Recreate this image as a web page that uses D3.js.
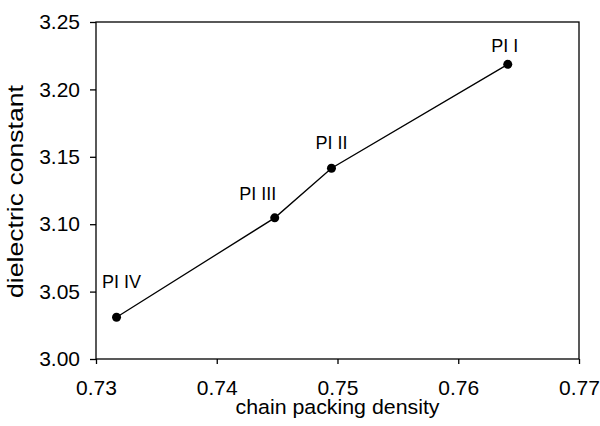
<!DOCTYPE html>
<html>
<head>
<meta charset="utf-8">
<script src="https://cdn.jsdelivr.net/npm/d3@7"></script>
<style>
  body { margin: 0; background: #fff; }
  text { font-family: "Liberation Sans", Arial, sans-serif; fill: #000; }
</style>
</head>
<body>
<svg class="chart"></svg>
<script>
// data
var names = ["PI I", "PI II", "PI III", "PI IV"];
var density = [0.7641, 0.7495, 0.7448, 0.7317];
var dielectric = [3.2186, 3.1415, 3.1047, 3.031];
var xTicks = [0.73, 0.74, 0.75, 0.76, 0.77];
var yTicks = [3.00, 3.05, 3.10, 3.15, 3.20, 3.25];

// label placement relative to each point (px)
var labelDx = [-3, 0, -17, 5];
var labelDy = [-12, -19, -18, -29];

function show() {
    'use strict';

    var margin = { top: 22, bottom: 67, right: 21, left: 96 },
        width = 600 - margin.left - margin.right,
        height = 426 - margin.top - margin.bottom;

    var svg = d3.select(".chart")
        .attr("width", 600)
        .attr("height", 426);

    var chart = svg.append("g")
        .attr("transform", "translate(" + margin.left + "," + margin.top + ")");

    var x = d3.scaleLinear().domain([0.73, 0.77]).range([0, width]);
    var y = d3.scaleLinear().domain([3.00, 3.25]).range([height, 0]);

    // frame
    chart.append("rect")
        .attr("width", width).attr("height", height)
        .attr("fill", "none").attr("stroke", "#000").attr("stroke-width", 1.3);

    var xAxis = chart.append("g")
        .attr("transform", "translate(0," + height + ")")
        .call(d3.axisBottom(x).tickValues(xTicks).tickFormat(d3.format(".2f")).tickSize(5).tickPadding(16));
    var yAxis = chart.append("g")
        .call(d3.axisLeft(y).tickValues(yTicks).tickFormat(d3.format(".2f")).tickSize(6).tickPadding(10));

    [xAxis, yAxis].forEach(function (a) {
        a.attr("font-size", 21).attr("font-family", '"Liberation Sans", Arial, sans-serif');
        a.select(".domain").remove();
        a.selectAll("line").attr("stroke", "#000").attr("stroke-width", 1.3);
        a.selectAll("text").attr("fill", "#000");
    });

    // axis titles
    chart.append("text")
        .attr("x", width / 2).attr("y", height + 55)
        .attr("text-anchor", "middle")
        .attr("font-size", 20.5)
        .attr("textLength", 204).attr("lengthAdjust", "spacingAndGlyphs")
        .text("chain packing density");

    chart.append("text")
        .attr("transform", "translate(" + (-73) + "," + (height / 2 + 1) + ") rotate(-90)")
        .attr("text-anchor", "middle")
        .attr("font-size", 22)
        .attr("textLength", 213).attr("lengthAdjust", "spacingAndGlyphs")
        .text("dielectric constant");

    var pts = names.map(function (n, i) { return { name: n, x: density[i], y: dielectric[i], i: i }; });
    var sorted = pts.slice().sort(function (a, b) { return a.x - b.x; });

    chart.append("path")
        .datum(sorted)
        .attr("fill", "none").attr("stroke", "#000").attr("stroke-width", 1.3)
        .attr("d", d3.line().x(d => x(d.x)).y(d => y(d.y)));

    chart.selectAll("circle.pt").data(pts)
      .enter().append("circle")
        .attr("class", "pt")
        .attr("cx", d => x(d.x)).attr("cy", d => y(d.y))
        .attr("r", 4.5).attr("fill", "#000");

    chart.selectAll("text.lbl").data(pts)
      .enter().append("text")
        .attr("class", "lbl")
        .attr("x", d => x(d.x) + labelDx[d.i])
        .attr("y", d => y(d.y) + labelDy[d.i])
        .attr("text-anchor", "middle")
        .attr("font-size", 18)
        .text(d => d.name);
}
show();
</script>
</body>
</html>
